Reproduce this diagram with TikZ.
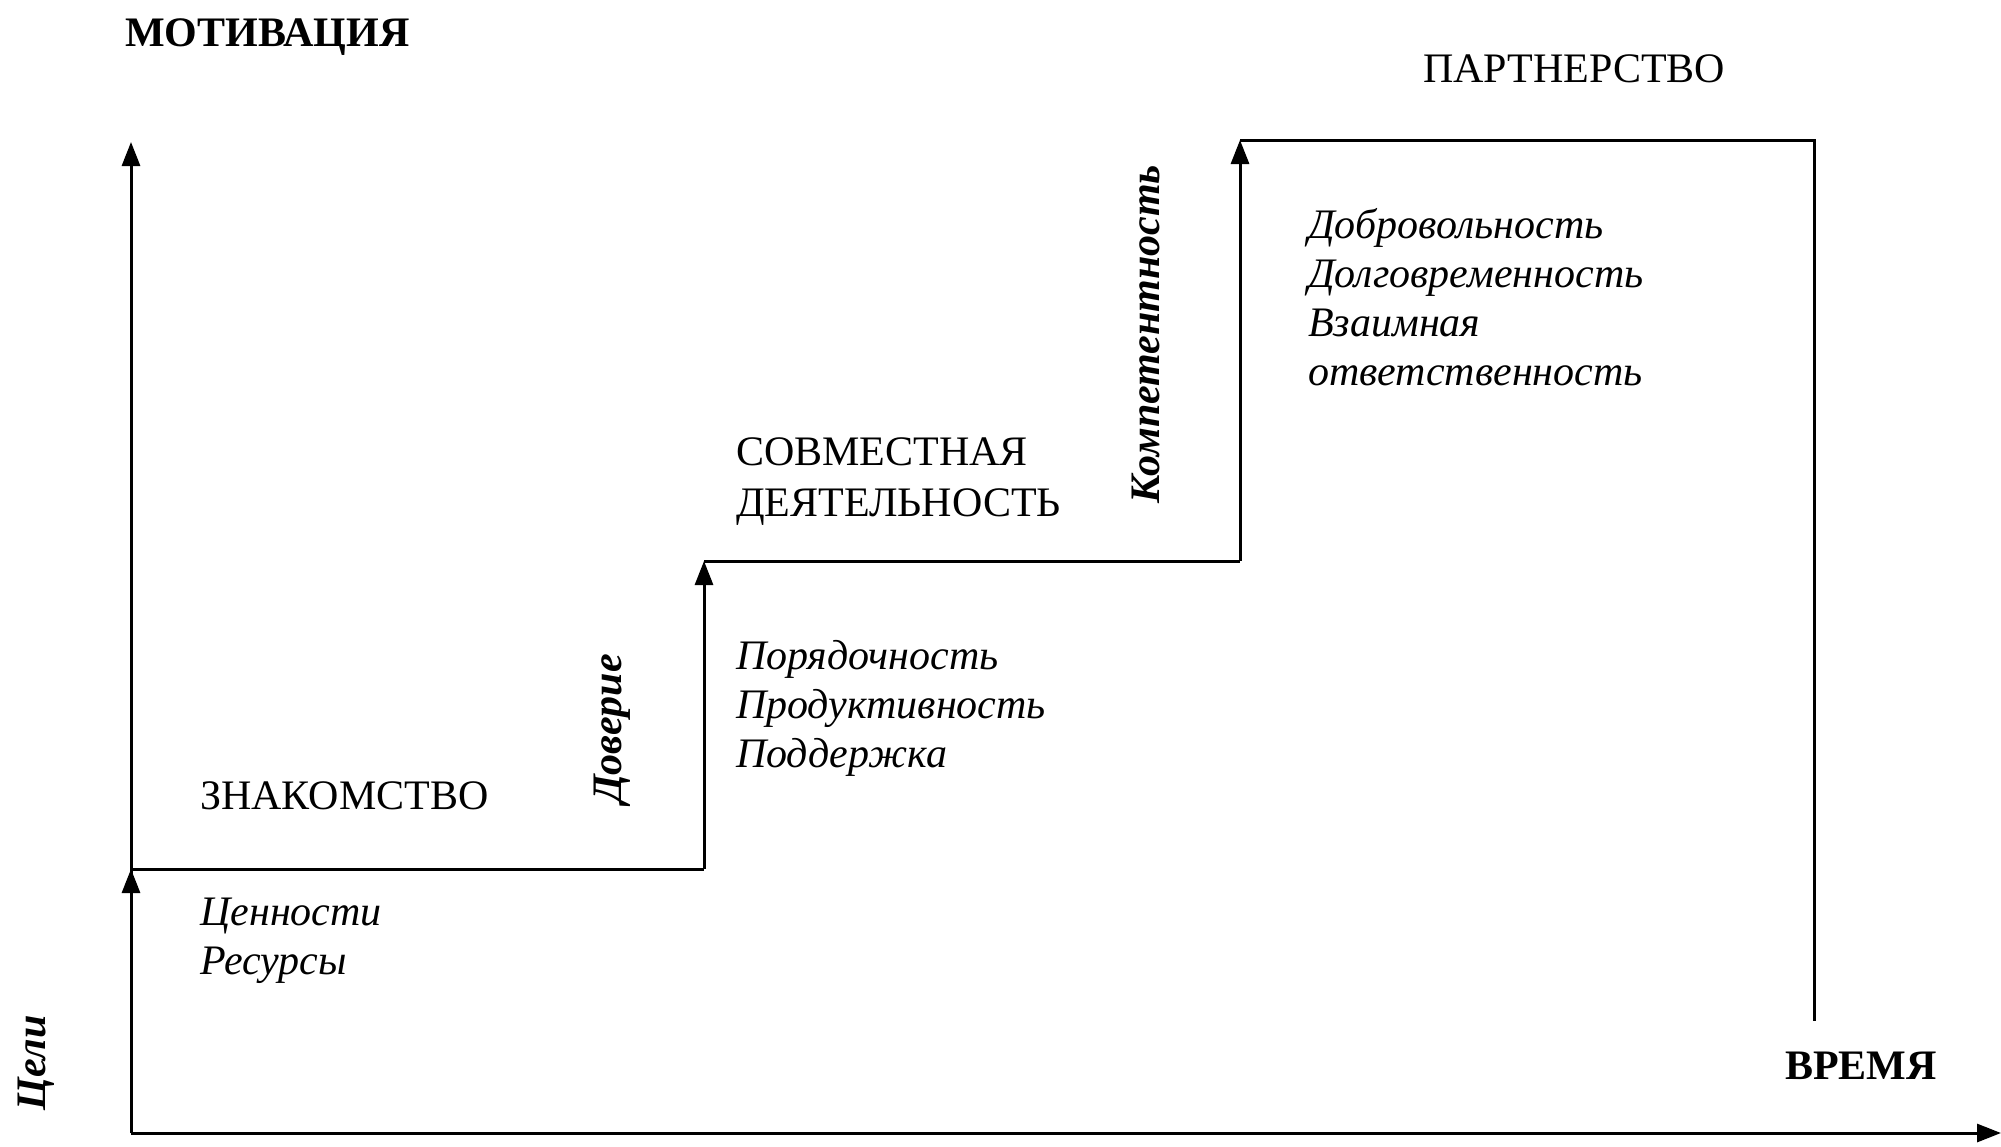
\documentclass[tikz,border=0pt]{standalone}
\usepackage{fontspec}
\setmainfont{Liberation Serif}
\usetikzlibrary{arrows.meta}
\begin{document}
\begin{tikzpicture}[x=1pt,y=-1pt,
  line/.style={line width=3pt, draw=black},
  arr/.style={line, -{Triangle[width=18pt,length=24pt]}},
  lab/.style={font=\fontsize{42}{49}\selectfont, inner sep=0pt},
  head/.style={font=\fontsize{42}{49}\selectfont\bfseries, inner sep=0pt},
  items/.style={font=\fontsize{42}{49}\selectfont\itshape, inner sep=0pt, align=left, anchor=west},
  vlab/.style={font=\fontsize{42}{49}\selectfont\bfseries\itshape, inner sep=0pt, rotate=90}]
\useasboundingbox (0,0) rectangle (2001,1146);
\fill[white] (0,0) rectangle (2001,1146);
% staircase points
\coordinate (O) at (131,1133);
\coordinate (Ytop) at (131,142);
\coordinate (S1) at (131,869);
\coordinate (S1r) at (704,869);
\coordinate (S2) at (704,561);
\coordinate (S2r) at (1240,561);
\coordinate (S3) at (1240,140);
\coordinate (S3r) at (1814,140);
\coordinate (E) at (1814,1021);
\coordinate (Xend) at (2001,1133);
% axes
\draw[arr] (O) -- (Ytop);
\draw[arr] (O) -- (Xend);
% steps
\draw[arr] (O) -- (S1);
\draw[line] (S1) -- (S1r);
\draw[arr] (S1r) -- (S2);
\draw[line] (S2) -- (S2r);
\draw[arr] (S2r) -- (S3);
\draw[line] (S3) -- (S3r) -- (E);
% labels
\node[head, anchor=west] (mot) at (125,37) {МОТИВАЦИЯ};
\node[head, anchor=west] (time) at (1785,1066) {ВРЕМЯ};
\node[lab, anchor=west] (part) at (1423,69) {ПАРТНЕРСТВО};
\node[lab, anchor=west] (znak) at (200,796) {ЗНАКОМСТВО};
\node[lab, anchor=west, align=left, font=\fontsize{42}{51}\selectfont] (sovm) at (736,482) {СОВМЕСТНАЯ\\ДЕЯТЕЛЬНОСТЬ};
\node[items] (i1) at (200,941) {Ценности\\Ресурсы};
\node[items] (i2) at (736,708) {Порядочность\\Продуктивность\\Поддержка};
\node[items] (i3) at (1308,297) {Добровольность\\Долговременность\\Взаимная\\ответственность};
\node[vlab] (goal) at (36,1063) {Цели};
\node[vlab] (trust) at (612,729) {Доверие};
\node[vlab] (comp) at (1146,334) {Компетентность};
\end{tikzpicture}
\end{document}
